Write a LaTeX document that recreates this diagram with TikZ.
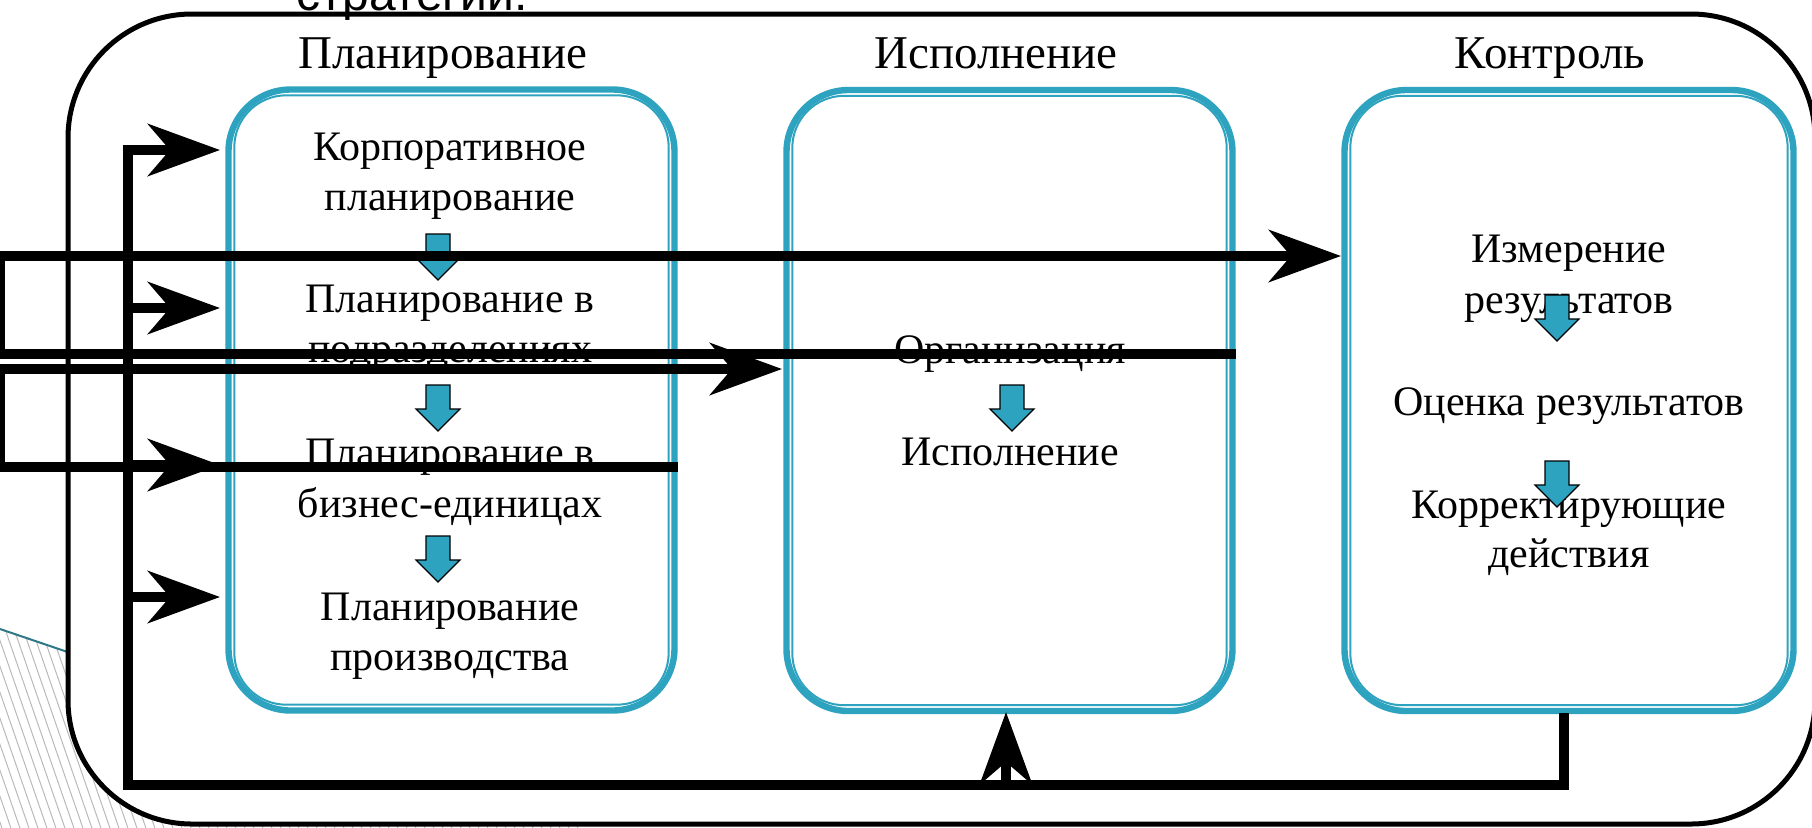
\documentclass[tikz,border=0pt]{standalone}
\usepackage{fontspec}
\setmainfont{Liberation Serif}
\newfontfamily\sansf{Liberation Sans}
\usetikzlibrary{arrows.meta,calc}
\definecolor{tealb}{RGB}{46,163,192}
\definecolor{hatchline}{RGB}{185,185,185}
\definecolor{darkteal}{RGB}{45,120,135}
\begin{document}
\begin{tikzpicture}[x=0.5pt,y=-0.5pt,
  box/.style={draw=tealb, line width=3.2pt, rounded corners=31pt, minimum width=223pt, minimum height=310.5pt, inner sep=0pt},
  boxin/.style={draw=tealb, line width=1pt, rounded corners=26pt},
  head/.style={font=\fontsize{23.5}{28}\selectfont, anchor=base, inner sep=0pt},
  txt/.style={font=\fontsize{21}{25}\selectfont, anchor=base, inner sep=0pt},
  conn/.style={draw=black, line width=5pt},
  tip/.style={-{Stealth[length=36pt,width=26pt,inset=11pt]}},
  bdown/.pic={\draw[fill=tealb, draw=black, line width=0.6pt] (-12,0) -- (12,0) -- (12,24) -- (22,24) -- (0,46) -- (-22,24) -- (-12,24) -- cycle;}
]
\useasboundingbox (0,0) rectangle (1812,827);
% background hatch
\begin{scope}
\clip (0,629) -- (640,847) -- (0,847) -- cycle;
\foreach \i in {-320,-311,...,660} \draw[hatchline, line width=0.5pt] (\i,600) -- ({\i+90},860);
\end{scope}
\draw[darkteal, line width=1pt] (0,629) -- (300,731);
% outer frame
\draw[line width=2.5pt, fill=white, rounded corners=62pt] (68,14) rectangle (1815,824);
\node[font=\sansf\fontsize{24}{28}\selectfont, anchor=base, inner sep=0pt] (strat) at (412,10) {стратегии.};
% headers
\node[head] (h1) at (443,68) {Планирование};
\node[head] (h2) at (996,68) {Исполнение};
\node[head] (h3) at (1550,68) {Контроль};
% boxes
\node[box] (b1) at (451.5,400) {};
\node[box] (b2) at (1009.5,400.5) {};
\node[box, minimum width=224.5pt] (b3) at (1569,400.5) {};
\draw[boxin] ($(b1.north west)+(9,9)$) rectangle ($(b1.south east)+(-9,-9)$);
\draw[boxin] ($(b2.north west)+(9,9)$) rectangle ($(b2.south east)+(-9,-9)$);
\draw[boxin] ($(b3.north west)+(9,9)$) rectangle ($(b3.south east)+(-9,-9)$);
% box 1 texts
\node[txt] (t1a) at (450,160) {Корпоративное};
\node[txt] (t1b) at (450,210) {планирование};
\node[txt] (t2a) at (450,312) {Планирование в};
\node[txt] (t2b) at (450,362) {подразделениях};
\node[txt] (t3a) at (450,466) {Планирование в};
\node[txt] (t3b) at (450,517) {бизнес-единицах};
\node[txt] (t4a) at (450,620) {Планирование};
\node[txt] (t4b) at (450,670) {производства};
% box 2 texts
\node[txt] (e1) at (1010,363) {Организация};
\node[txt] (e2) at (1010,465) {Исполнение};
% box 3 texts
\node[txt] (k1a) at (1569,262) {Измерение};
\node[txt] (k1b) at (1569,313) {результатов};
\node[txt] (k2) at (1569,415) {Оценка результатов};
\node[txt] (k3a) at (1569,518) {Корректирующие};
\node[txt] (k3b) at (1569,567) {действия};
% small arrows
\pic at (438,234) {bdown};
\pic at (438,385) {bdown};
\pic at (438,536) {bdown};
\pic at (1012,385) {bdown};
\pic at (1557,295) {bdown};
\pic at (1557,461) {bdown};
% connector end points
\coordinate (in3) at (1341,256);
\coordinate (in2) at (782,369);
\coordinate (out3) at (1564,713);
\coordinate (in1a) at (220,150);
\coordinate (in1b) at (220,308);
\coordinate (in1c) at (220,465);
\coordinate (in1d) at (220,597);
\coordinate (in2b) at (1006,712);
% connectors
\draw[conn,tip] (b2.east |- 0,354) -- (0,354) -- (0,256) -- (in3);
\draw[conn,tip] (b1.east |- 0,467) -- (0,467) -- (0,369) -- (in2);
\draw[conn,tip] (out3) -- (1564,785) -- (128,785) -- (128,150) -- (in1a);
\draw[conn,tip] (128,308) -- (in1b);
\draw[conn,tip] (128,465) -- (in1c);
\draw[conn,tip] (128,597) -- (in1d);
\draw[conn,tip] (1006,785) -- (in2b);
\end{tikzpicture}
\end{document}
